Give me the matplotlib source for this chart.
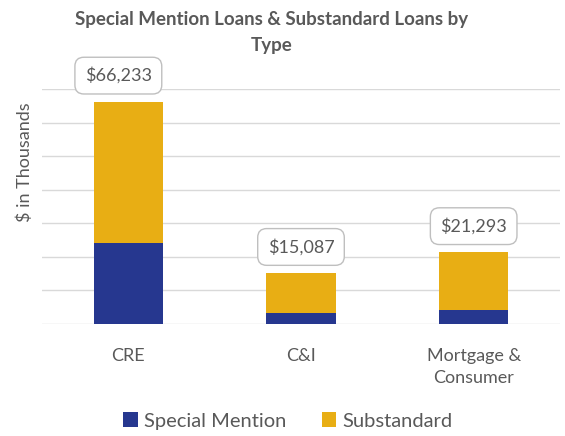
import matplotlib
matplotlib.use("Agg")
import matplotlib.pyplot as plt
import numpy as np

categories = ["CRE", "C&I", "Mortgage &\nConsumer"]
special_mention = [24150, 3050, 4030]
substandard = [42083, 12037, 17263]
totals = [66233, 15087, 21293]
total_labels = ["$66,233", "$15,087", "$21,293"]

navy = "#26378F"
gold = "#E8AE14"
gray = "#595959"

plt.rcParams['font.family'] = ['Lato', 'DejaVu Sans']

fig = plt.figure(figsize=(5.65, 4.36), dpi=100)
ax = fig.add_axes([42/565, 1-323.5/436, 518/565, (323.5-89)/436])

x = np.arange(len(categories))
ax.bar(x, special_mention, width=0.4, color=navy, label="Special Mention", zorder=3)
ax.bar(x, substandard, width=0.4, bottom=special_mention, color=gold, label="Substandard", zorder=3)

ax.set_xlim(-0.5, len(categories)-0.5)
ax.set_ylim(0, 70000)
ax.set_yticks(np.arange(0, 70001, 10000))
ax.yaxis.grid(True, color="#d9d9d9", linewidth=1, zorder=0)
ax.tick_params(axis='y', left=False, labelleft=False)
ax.tick_params(axis='x', bottom=False, labelsize=13, labelcolor=gray, pad=14)
ax.set_xticks(x)
ax.set_xticklabels(categories, linespacing=1.45)
for s in ax.spines.values():
    s.set_visible(False)

fig.text(25/565, 1-162/436, "$ in Thousands", rotation=90, ha="center", va="center",
         fontsize=13, color=gray)

label_dx = [-10, 0, 0]
for xi, t, lab, dx in zip(x, totals, total_labels, label_dx):
    ax.annotate(lab, xy=(xi, t), xytext=(dx, 26), textcoords="offset pixels",
                ha="center", va="center", fontsize=13, color=gray, zorder=5,
                bbox=dict(boxstyle="round,pad=0.55,rounding_size=0.5", fc="white", ec="#bfbfbf", lw=1))

fig.text(272/565, 1-19/436, "Special Mention Loans & Substandard Loans by", ha="center", va="center",
         fontsize=13.5, fontweight="bold", color=gray)
fig.text(272/565, 1-45/436, "Type", ha="center", va="center",
         fontsize=13.5, fontweight="bold", color=gray)

fig.legend(loc="center", bbox_to_anchor=(288/565, 1-421/436), ncol=2, frameon=False,
           fontsize=14.5, labelcolor=gray, handlelength=0.7, handleheight=0.7,
           handletextpad=0.3, columnspacing=1.8)

fig.savefig("out.png", dpi=100)
